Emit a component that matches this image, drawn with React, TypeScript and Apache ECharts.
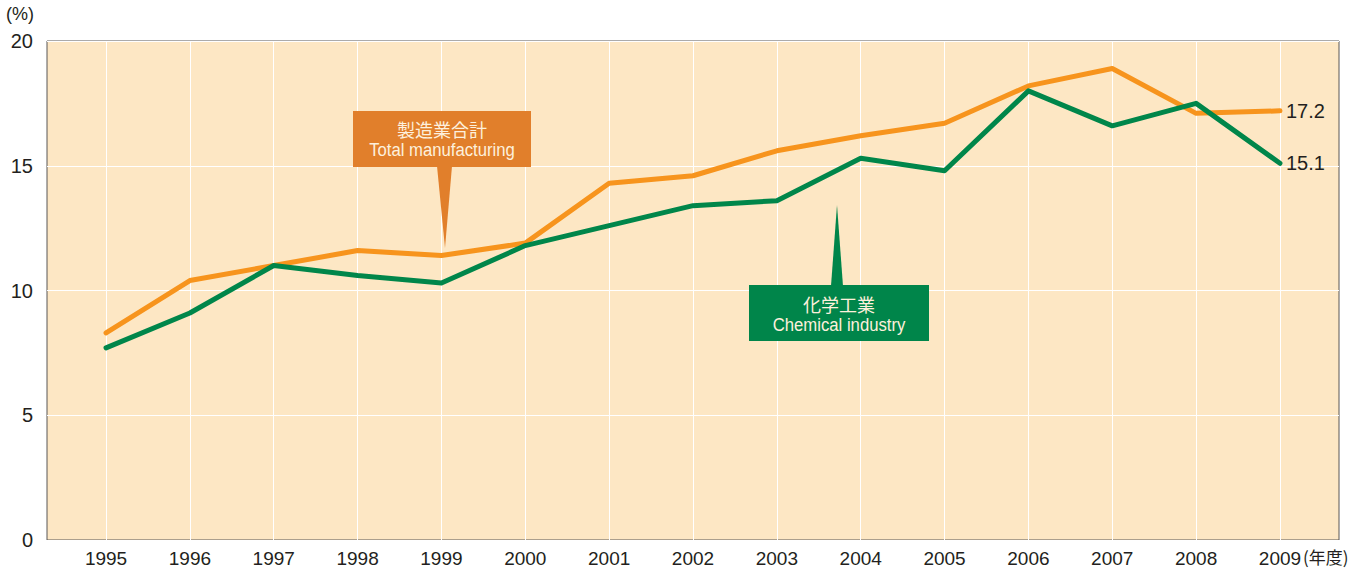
import React, { useEffect, useRef } from "react";
import * as echarts from "echarts";

const years = [1995, 1996, 1997, 1998, 1999, 2000, 2001, 2002, 2003, 2004, 2005, 2006, 2007, 2008, 2009];
const totalManufacturing = [8.3, 10.4, 11.0, 11.6, 11.4, 11.9, 14.3, 14.6, 15.6, 16.2, 16.7, 18.2, 18.9, 17.1, 17.2];
const chemicalIndustry = [7.7, 9.1, 11.0, 10.6, 10.3, 11.8, 12.6, 13.4, 13.6, 15.3, 14.8, 18.0, 16.6, 17.5, 15.1];
const yTicks = [0, 5, 10, 15, 20];

const FONT = "'Liberation Sans', Arial, sans-serif";
const CJK = "'Noto Sans CJK JP', sans-serif";
const TXT = "#fdf0dc";

export default function App() {
  const ref = useRef<HTMLDivElement>(null);
  useEffect(() => {
    document.body.style.margin = "0";
    const chart = echarts.init(ref.current!, null, { renderer: "svg" });
    const pairs = (vals: number[]) => years.map((y, i) => [y, vals[i]]);
    const endLabel = {
      show: true,
      formatter: (p: any) => p.value[1].toFixed(1),
      fontSize: 20,
      color: "#231f20",
      fontFamily: FONT,
      distance: 6,
    };
    const Z = 100;
    chart.setOption({
      animation: false,
      grid: {
        left: 47,
        right: 24,
        top: 41,
        bottom: 31,
        show: true,
        backgroundColor: "#fde7c4",
        borderColor: "#595757",
        borderWidth: 1,
      },
      xAxis: {
        type: "value",
        min: 1994.296,
        max: 2009.704,
        axisLine: { show: false },
        axisTick: { show: false, customValues: years },
        splitLine: { show: false },
        axisLabel: {
          customValues: years,
          fontSize: 19,
          color: "#231f20",
          fontFamily: FONT,
          margin: 9,
          formatter: (v: number) => String(v),
        },
      },
      yAxis: {
        type: "value",
        min: yTicks[0],
        max: yTicks[yTicks.length - 1],
        interval: 5,
        axisLine: { show: false },
        axisTick: { show: false },
        splitLine: { show: true, lineStyle: { color: "#ffffff", width: 1 } },
        axisLabel: { fontSize: 20, color: "#231f20", fontFamily: FONT, margin: 14 },
      },
      series: [
        {
          type: "line",
          name: "grid",
          data: [],
          markLine: {
            silent: true,
            symbol: "none",
            z: 1,
            label: { show: false },
            lineStyle: { color: "#ffffff", width: 1, type: "solid" },
            data: years.map((y) => ({ xAxis: y })),
          },
        },
        {
          type: "line",
          name: "Total manufacturing",
          data: pairs(totalManufacturing),
          showSymbol: false,
          symbol: "none",
          lineStyle: { color: "#f7941d", width: 5, cap: "round", join: "round" },
          itemStyle: { color: "#f7941d" },
          endLabel,
          z: 3,
        },
        {
          type: "line",
          name: "Chemical industry",
          data: pairs(chemicalIndustry),
          showSymbol: false,
          symbol: "none",
          lineStyle: { color: "#00864a", width: 5, cap: "round", join: "round" },
          itemStyle: { color: "#00864a" },
          endLabel,
          z: 4,
        },
      ],
      graphic: [
        {
          type: "text",
          left: 6,
          top: 5,
          z: Z,
          style: { text: "(%)", fontSize: 18, fill: "#231f20", fontFamily: FONT },
        },
        {
          type: "text",
          left: 1303,
          top: 548,
          z: Z,
          style: { text: "(年度)", fontSize: 17, fill: "#231f20", fontFamily: CJK },
        },
        { type: "polygon", z: Z, shape: { points: [[437, 166], [452, 166], [445, 248]] }, style: { fill: "#e17f2b" } },
        { type: "rect", z: Z, shape: { x: 353, y: 111, width: 178, height: 56 }, style: { fill: "#e17f2b" } },
        {
          type: "text",
          z: Z + 1,
          x: 442,
          y: 129,
          style: { text: "製造業合計", fontSize: 18, fill: TXT, fontFamily: CJK, align: "center", verticalAlign: "middle" },
        },
        {
          type: "text",
          z: Z + 1,
          x: 442,
          y: 150,
          scaleX: 0.88,
          style: { text: "Total manufacturing", fontSize: 19, fill: TXT, fontFamily: FONT, align: "center", verticalAlign: "middle" },
        },
        { type: "polygon", z: Z, shape: { points: [[831, 286], [843, 286], [837, 205]] }, style: { fill: "#00854a" } },
        { type: "rect", z: Z, shape: { x: 749, y: 285, width: 180, height: 56 }, style: { fill: "#00854a" } },
        {
          type: "text",
          z: Z + 1,
          x: 839,
          y: 304,
          style: { text: "化学工業", fontSize: 18, fill: TXT, fontFamily: CJK, align: "center", verticalAlign: "middle" },
        },
        {
          type: "text",
          z: Z + 1,
          x: 839,
          y: 325,
          scaleX: 0.88,
          style: { text: "Chemical industry", fontSize: 19, fill: TXT, fontFamily: FONT, align: "center", verticalAlign: "middle" },
        },
      ],
    });
    return () => chart.dispose();
  }, []);
  return <div ref={ref} style={{ width: 1363, height: 571 }} />;
}
